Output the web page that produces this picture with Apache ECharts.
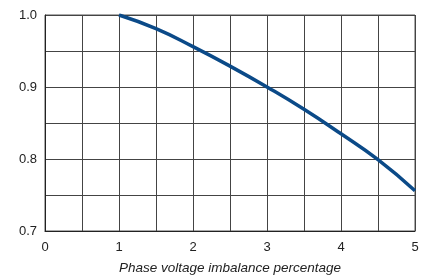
<!DOCTYPE html>
<html>
<head>
<meta charset="utf-8">
<script src="https://cdn.jsdelivr.net/npm/echarts@6/dist/echarts.min.js"></script>
<style>
  html, body { margin: 0; padding: 0; background: #fff; }
  #chart { width: 430px; height: 280px; }
</style>
</head>
<body>
<div id="chart"></div>
<script>
// derating factor vs phase voltage imbalance (%)
const imbalance = [1, 1.5, 2, 2.5, 3, 3.5, 4, 4.5, 5];
const derating = [1.0, 0.981, 0.956, 0.929, 0.9, 0.869, 0.835, 0.799, 0.756];
const xTicks = [0, 1, 2, 3, 4, 5];
const yTicks = [0.7, 0.8, 0.9, 1.0];

const chart = echarts.init(document.getElementById("chart"));
const font = "Liberation Sans, Arial, sans-serif";

chart.setOption({
  animation: false,
  grid: { left: 45, right: 15, top: 15, bottom: 46, show: true, borderColor: "#555", borderWidth: 1 },
  xAxis: {
    type: "value",
    min: 0,
    max: 5,
    interval: 0.5,
    name: "Phase voltage imbalance percentage",
    nameLocation: "middle",
    nameGap: 30,
    nameTextStyle: { fontFamily: font, fontSize: 13.5, fontStyle: "italic", color: "#222" },
    axisLine: { show: true, lineStyle: { color: "#222", width: 1 } },
    axisTick: { show: false },
    axisLabel: {
      fontFamily: font, fontSize: 13, color: "#222", margin: 10,
      formatter: (v) => (xTicks.includes(v) ? String(v) : "")
    },
    splitLine: { show: true, lineStyle: { color: "#444", width: 1 } }
  },
  yAxis: {
    type: "value",
    min: 0.7,
    max: 1.0,
    interval: 0.05,
    axisLine: { show: true, lineStyle: { color: "#222", width: 1 } },
    axisTick: { show: false },
    axisLabel: {
      fontFamily: font, fontSize: 13, color: "#222", margin: 8,
      formatter: (v) => {
        const hit = yTicks.find((t) => Math.abs(t - v) < 1e-6);
        return hit !== undefined ? hit.toFixed(1) : "";
      }
    },
    splitLine: { show: true, lineStyle: { color: "#444", width: 1 } }
  },
  series: [
    {
      type: "line",
      data: imbalance.map((x, i) => [x, derating[i]]),
      smooth: 0.5,
      showSymbol: false,
      lineStyle: { color: "#0b4a88", width: 3.5 }
    }
  ]
});
</script>
</body>
</html>
